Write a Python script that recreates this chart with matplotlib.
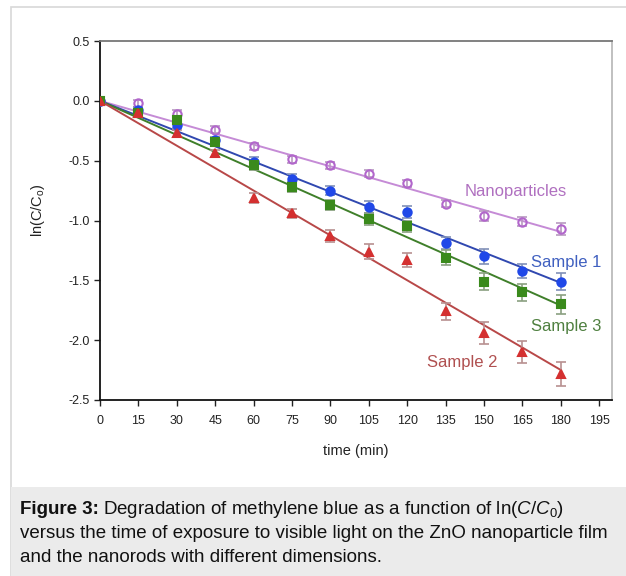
import numpy as np
import matplotlib
matplotlib.use("Agg")
import matplotlib.pyplot as plt
from matplotlib.patches import Rectangle

plt.rcParams['font.family'] = ['Liberation Sans', 'DejaVu Sans']
plt.rcParams['mathtext.fontset'] = 'custom'
plt.rcParams['mathtext.rm'] = 'Liberation Sans'
plt.rcParams['mathtext.it'] = 'Liberation Sans:italic'
plt.rcParams['mathtext.bf'] = 'Liberation Sans:bold'

time = [0, 15, 30, 45, 60, 75, 90, 105, 120, 135, 150, 165, 180]
nano = [0, -0.02, -0.11, -0.24, -0.38, -0.49, -0.54, -0.61, -0.69, -0.86, -0.96, -1.01, -1.075]
nano_err = [0.02, 0.03, 0.03, 0.03, 0.03, 0.03, 0.03, 0.03, 0.03, 0.03, 0.04, 0.04, 0.05]
s1 = [0, -0.08, -0.2, -0.33, -0.51, -0.65, -0.75, -0.89, -0.93, -1.19, -1.30, -1.42, -1.51]
s1_err = [0.02, 0.03, 0.03, 0.03, 0.04, 0.04, 0.04, 0.05, 0.05, 0.05, 0.06, 0.06, 0.07]
s3 = [0, -0.1, -0.16, -0.34, -0.54, -0.72, -0.87, -0.99, -1.05, -1.31, -1.51, -1.60, -1.70]
s3_err = [0.02, 0.03, 0.03, 0.03, 0.04, 0.04, 0.04, 0.05, 0.05, 0.06, 0.07, 0.07, 0.08]
s2 = [0, -0.1, -0.27, -0.44, -0.81, -0.94, -1.13, -1.26, -1.33, -1.76, -1.94, -2.1, -2.28]
s2_err = [0.02, 0.03, 0.03, 0.03, 0.04, 0.04, 0.05, 0.06, 0.06, 0.07, 0.09, 0.09, 0.10]

xticks = list(range(0, 196, 15))
yticks = [0.5, 0.0, -0.5, -1.0, -1.5, -2.0, -2.5]

W, H = 626, 576
fig = plt.figure(figsize=(W / 100, H / 100), dpi=100, facecolor='white')

# outer frame and caption panel
fig.patches.append(Rectangle((11 / W, -0.01), 1.0, 1 - 7 / H + 0.01, transform=fig.transFigure,
                             facecolor='none', edgecolor='#d8d8d8', lw=1.2, zorder=-2))
fig.patches.append(Rectangle((11 / W, 0), 1 - 11 / W, (H - 487) / H, transform=fig.transFigure,
                             facecolor='#ebebeb', edgecolor='none', zorder=-1))

ax = fig.add_axes([100 / W, 1 - 400 / H, (612 - 100) / W, (400 - 41) / H])
ax.set_xlim(0, 200)
ax.set_ylim(-2.5, 0.5)

series = [
    (nano, nano_err, 'o', 'none', '#b266cc', '#c58bd6', '#b89ac0', 6.0),
    (s1, s1_err, 'o', '#2048e8', '#2048e8', '#3048b0', '#8090b8', 6.0),
    (s3, s3_err, 's', '#3a8a1c', '#3a8a1c', '#3f7f2a', '#8aa080', 5.5),
    (s2, s2_err, '^', '#d43030', '#d43030', '#b84848', '#b89090', 6.0),
]
t = np.array(time, dtype=float)
for vals, err, mk, fc, ec, lc, erc, ms in series:
    v = np.array(vals)
    k = np.sum(t * v) / np.sum(t * t)
    ax.plot([0, 180], [0, k * 180], color=lc, lw=1.4, zorder=2)
    ax.errorbar(time, vals, yerr=err, fmt='none', ecolor=erc, elinewidth=1.2,
                capsize=3.8, capthick=1.2, zorder=3)
    ax.plot(time, vals, linestyle='none', marker=mk, markersize=ms,
            markerfacecolor=fc, markeredgecolor=ec, markeredgewidth=1.5, zorder=4)

labels = [('Nanoparticles', 465, 192, '#b070c0'),
          ('Sample 1', 531, 262, '#4060c0'),
          ('Sample 3', 531, 327, '#4f8040'),
          ('Sample 2', 427, 362, '#b05050')]
for txt, px, py, col in labels:
    fig.text(px / W, 1 - py / H, txt, color=col, fontsize=12, va='center', ha='left')

ax.set_xticks(xticks)
ax.set_xticklabels([str(x) for x in xticks])
ax.set_yticks(yticks)
ax.set_yticklabels(['%.1f' % y for y in yticks])
ax.tick_params(axis='both', labelsize=9, colors='#222222', length=4, width=1)
ax.tick_params(axis='x', pad=7)
ax.spines['left'].set_color('#111111')
ax.spines['bottom'].set_color('#111111')
ax.spines['top'].set_color('#777777')
ax.spines['right'].set_color('#bbbbbb')
for s in ax.spines.values():
    s.set_linewidth(1.3)

ax.set_xlabel('time (min)', fontsize=10.5, color='#222222', labelpad=12)
fig.text(38 / W, 1 - 210 / H, 'ln(C/C$_\\mathregular{o}$)', rotation=90, fontsize=10.5,
         color='#222222', va='center', ha='center')

cap_x = 20 / W
cfs = 13.5
r = fig.canvas.get_renderer()
t1 = fig.text(cap_x, 1 - 510 / H, 'Figure 3:', fontsize=cfs, fontweight='bold',
              va='center', ha='left', color='#111111')
bb = t1.get_window_extent(r)
fig.text((bb.x1 + 4) / W, 1 - 510 / H,
         'Degradation of methylene blue as a function of ln($\\mathit{C}$/$\\mathit{C}_\\mathregular{0}$)',
         fontsize=cfs, va='center', ha='left', color='#111111')
fig.text(cap_x, 1 - 534 / H, 'versus the time of exposure to visible light on the ZnO nanoparticle film',
         fontsize=cfs, va='center', ha='left', color='#111111')
fig.text(cap_x, 1 - 558 / H, 'and the nanorods with different dimensions.',
         fontsize=cfs, va='center', ha='left', color='#111111')

fig.savefig('out.png', dpi=100)
